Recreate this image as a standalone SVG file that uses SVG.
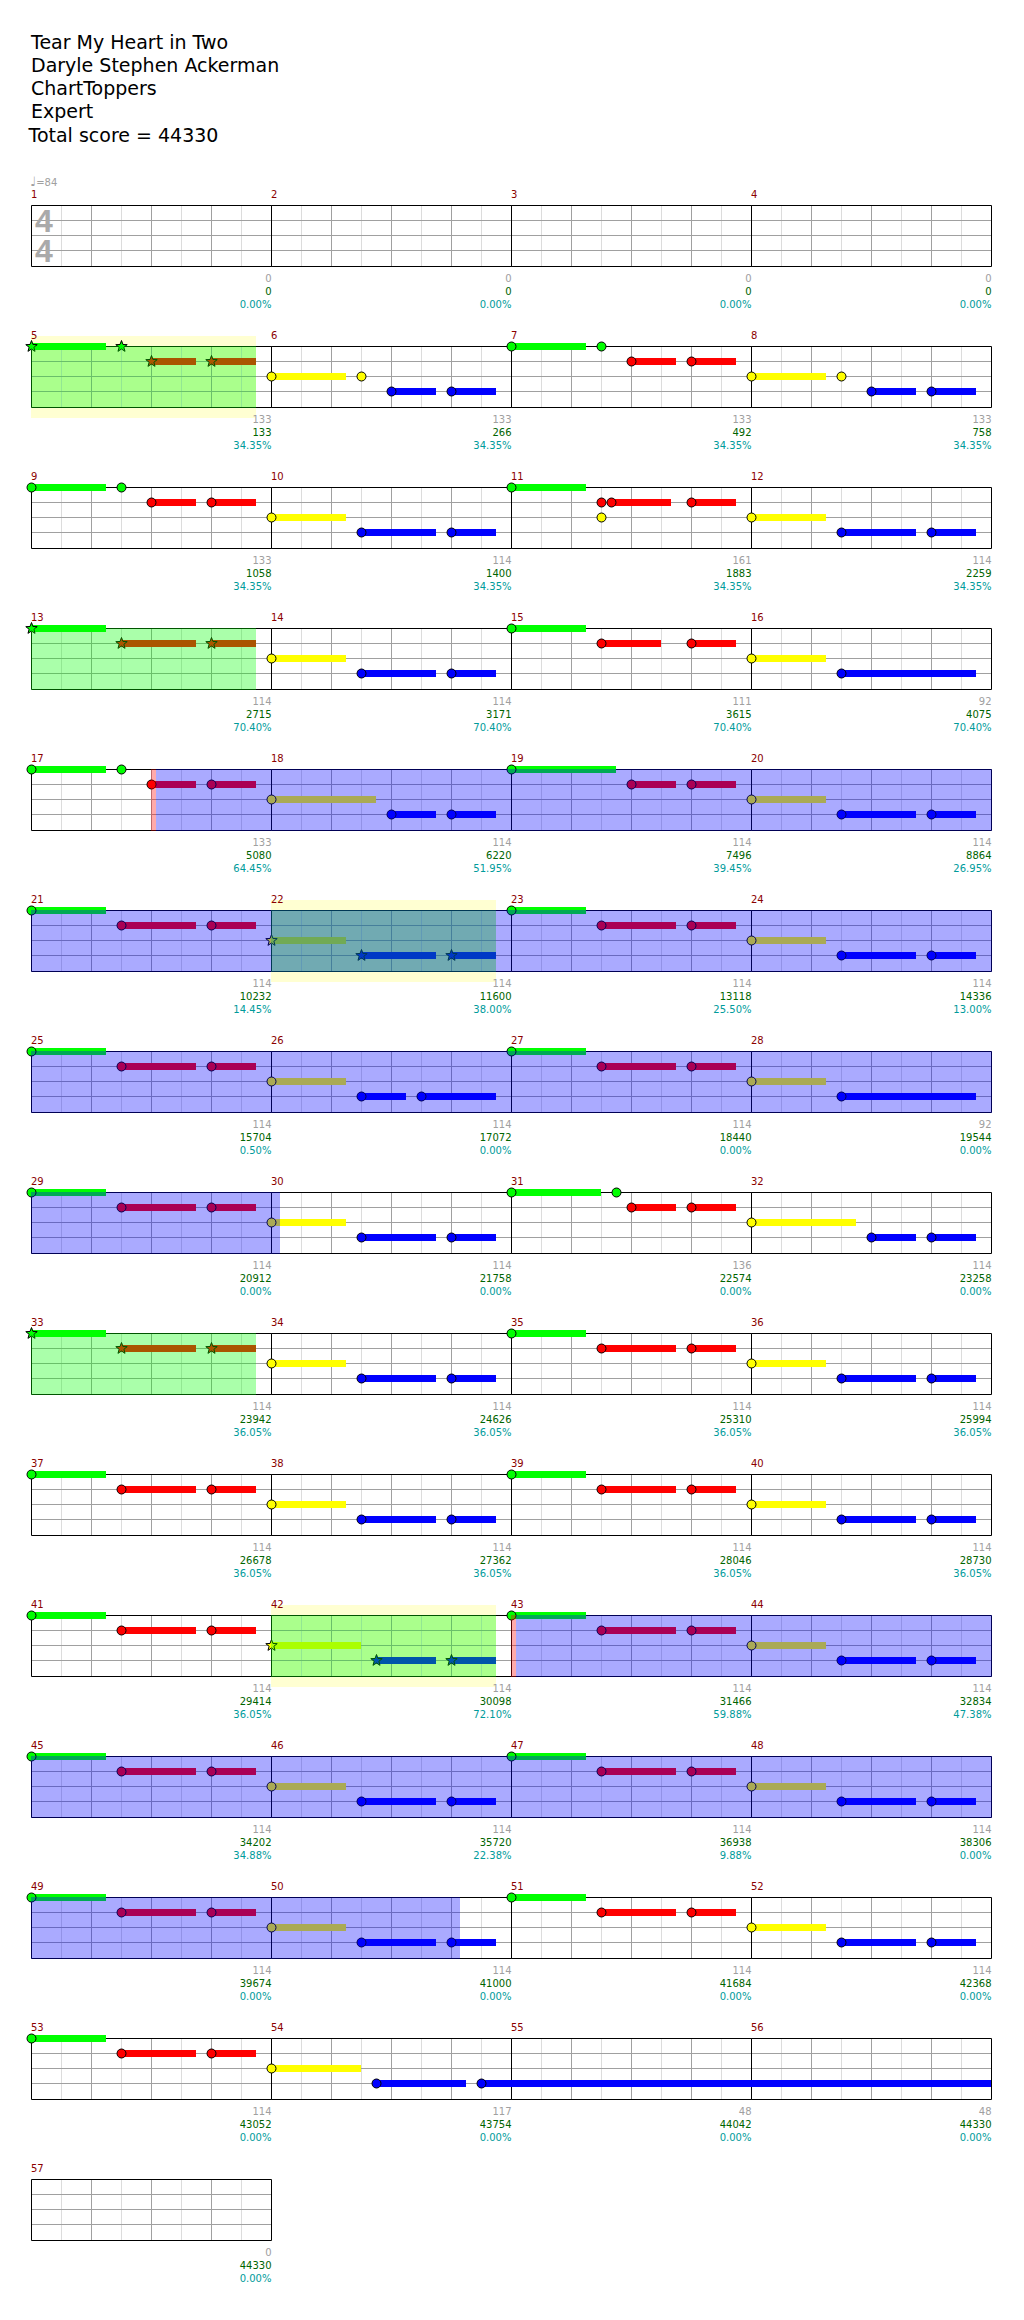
<svg xmlns="http://www.w3.org/2000/svg" width="1024" height="2320" viewBox="0 0 1024 2320">
<style>
text{font-family:"DejaVu Sans",Verdana,sans-serif}
.title{font-size:19px;fill:#000}
.tempo{font-size:10px;fill:#a0a0a0}
.ts{font-family:"Liberation Sans",Arial,sans-serif;font-weight:bold;font-size:32px;fill:#aaaaaa}
.mn{font-size:10px;fill:#8b0000}
.v{font-size:10px;text-anchor:end}
.v1{fill:#a0a0a0}.v2{fill:#006400}.v3{fill:#009b9b}
.g{fill:#00ff00}.r{fill:#ff0000}.y{fill:#ffff00}.b{fill:#0000ff}
.n{stroke:#000;stroke-width:1}
.hl{fill:#ffffd2}
.sp{fill:#00ff00;fill-opacity:.333}
.od{fill:#0000ff;fill-opacity:.333}
.act{fill:#ff0000;fill-opacity:.333}
</style>
<defs>
<g id="grid" fill="none">
<path d="M30 0V61M90 0V61M150 0V61M210 0V61" stroke="#dcdcdc"/>
<path d="M60 0V61M120 0V61M180 0V61M0 15H240M0 30H240M0 45H240" stroke="#a0a0a0"/>
<path d="M0 0H240V61H0Z" stroke="#000"/>
</g>
<polygon id="star" points="0,-6 1.47,-2.02 5.71,-1.85 2.38,0.77 3.53,4.85 0,2.5 -3.53,4.85 -2.38,0.77 -5.71,-1.85 -1.47,-2.02"/>
<g id="pA1">
<rect class="g" x="-0.5" y="-3.5" width="75" height="7"/>
<rect class="r" x="119.5" y="11.5" width="45" height="7"/>
<rect class="r" x="179.5" y="11.5" width="45" height="7"/>
<circle class="g n" r="4.5"/>
<circle class="g n" cx="90" r="4.5"/>
<circle class="r n" cx="120" cy="15" r="4.5"/>
<circle class="r n" cx="180" cy="15" r="4.5"/>
</g>
<g id="pB1">
<rect class="y" x="-0.5" y="26.5" width="75" height="7"/>
<rect class="b" x="119.5" y="41.5" width="45" height="7"/>
<rect class="b" x="179.5" y="41.5" width="45" height="7"/>
<circle class="y n" cy="30" r="4.5"/>
<circle class="y n" cx="90" cy="30" r="4.5"/>
<circle class="b n" cx="120" cy="45" r="4.5"/>
<circle class="b n" cx="180" cy="45" r="4.5"/>
</g>
<g id="pA2">
<rect class="g" x="-0.5" y="-3.5" width="75" height="7"/>
<rect class="r" x="89.5" y="11.5" width="75" height="7"/>
<rect class="r" x="179.5" y="11.5" width="45" height="7"/>
<circle class="g n" r="4.5"/>
<circle class="r n" cx="90" cy="15" r="4.5"/>
<circle class="r n" cx="180" cy="15" r="4.5"/>
</g>
<g id="pB2">
<rect class="y" x="-0.5" y="26.5" width="75" height="7"/>
<rect class="b" x="89.5" y="41.5" width="75" height="7"/>
<rect class="b" x="179.5" y="41.5" width="45" height="7"/>
<circle class="y n" cy="30" r="4.5"/>
<circle class="b n" cx="90" cy="45" r="4.5"/>
<circle class="b n" cx="180" cy="45" r="4.5"/>
</g>
<g id="pA3">
<rect class="g" x="-0.5" y="-3.5" width="105" height="7"/>
<rect class="r" x="119.5" y="11.5" width="45" height="7"/>
<rect class="r" x="179.5" y="11.5" width="45" height="7"/>
<circle class="g n" r="4.5"/>
<circle class="r n" cx="120" cy="15" r="4.5"/>
<circle class="r n" cx="180" cy="15" r="4.5"/>
</g>
<g id="pB3">
<rect class="y" x="-0.5" y="26.5" width="105" height="7"/>
<rect class="b" x="119.5" y="41.5" width="45" height="7"/>
<rect class="b" x="179.5" y="41.5" width="45" height="7"/>
<circle class="y n" cy="30" r="4.5"/>
<circle class="b n" cx="120" cy="45" r="4.5"/>
<circle class="b n" cx="180" cy="45" r="4.5"/>
</g>
</defs>
<rect width="1024" height="2320" fill="#fff"/>
<g id="header">
<text class="title" x="31" y="49">Tear My Heart in Two</text>
<text class="title" x="31" y="72">Daryle Stephen Ackerman</text>
<text class="title" x="31" y="95">ChartToppers</text>
<text class="title" x="31" y="118">Expert</text>
<text class="title" x="28.5" y="141.5">Total score = 44330</text>
<text class="tempo" x="30" y="185.5"><tspan font-size="13">♩</tspan>=84</text>
</g>

<g id="row1">
<g id="m1" transform="translate(31.5,205.5)"><use href="#grid"/><text class="ts" x="3.5" y="26.8">4<tspan x="3.5" y="56.8">4</tspan></text><text class="mn" x="-0.5" y="-8">1</text><text class="v v1" x="240" y="76.5">0</text><text class="v v2" x="240" y="89.5">0</text><text class="v v3" x="240" y="102.5">0.00%</text></g>
<g id="m2" transform="translate(271.5,205.5)"><use href="#grid"/><text class="mn" x="-0.5" y="-8">2</text><text class="v v1" x="240" y="76.5">0</text><text class="v v2" x="240" y="89.5">0</text><text class="v v3" x="240" y="102.5">0.00%</text></g>
<g id="m3" transform="translate(511.5,205.5)"><use href="#grid"/><text class="mn" x="-0.5" y="-8">3</text><text class="v v1" x="240" y="76.5">0</text><text class="v v2" x="240" y="89.5">0</text><text class="v v3" x="240" y="102.5">0.00%</text></g>
<g id="m4" transform="translate(751.5,205.5)"><use href="#grid"/><text class="mn" x="-0.5" y="-8">4</text><text class="v v1" x="240" y="76.5">0</text><text class="v v2" x="240" y="89.5">0</text><text class="v v3" x="240" y="102.5">0.00%</text></g>
</g>

<g id="row2">
<rect class="hl" x="31" y="336" width="225" height="82"/>
<g id="m5" transform="translate(31.5,346.5)"><use href="#grid"/>
<rect class="g" x="-0.5" y="-3.5" width="75" height="7"/><rect class="r" x="119.5" y="11.5" width="45" height="7"/><rect class="r" x="179.5" y="11.5" width="45" height="7"/>
<use href="#star" class="g n"/><use href="#star" class="g n" x="90"/><use href="#star" class="r n" x="120" y="15"/><use href="#star" class="r n" x="180" y="15"/>
<text class="mn" x="-0.5" y="-8">5</text><text class="v v1" x="240" y="76.5">133</text><text class="v v2" x="240" y="89.5">133</text><text class="v v3" x="240" y="102.5">34.35%</text></g>
<g id="m6" transform="translate(271.5,346.5)"><use href="#grid"/><use href="#pB1"/><text class="mn" x="-0.5" y="-8">6</text><text class="v v1" x="240" y="76.5">133</text><text class="v v2" x="240" y="89.5">266</text><text class="v v3" x="240" y="102.5">34.35%</text></g>
<g id="m7" transform="translate(511.5,346.5)"><use href="#grid"/><use href="#pA1"/><text class="mn" x="-0.5" y="-8">7</text><text class="v v1" x="240" y="76.5">133</text><text class="v v2" x="240" y="89.5">492</text><text class="v v3" x="240" y="102.5">34.35%</text></g>
<g id="m8" transform="translate(751.5,346.5)"><use href="#grid"/><use href="#pB1"/><text class="mn" x="-0.5" y="-8">8</text><text class="v v1" x="240" y="76.5">133</text><text class="v v2" x="240" y="89.5">758</text><text class="v v3" x="240" y="102.5">34.35%</text></g>
<rect class="sp" x="31" y="346" width="225" height="62"/>
</g>

<g id="row3">
<g id="m9" transform="translate(31.5,487.5)"><use href="#grid"/><use href="#pA1"/><text class="mn" x="-0.5" y="-8">9</text><text class="v v1" x="240" y="76.5">133</text><text class="v v2" x="240" y="89.5">1058</text><text class="v v3" x="240" y="102.5">34.35%</text></g>
<g id="m10" transform="translate(271.5,487.5)"><use href="#grid"/><use href="#pB2"/><text class="mn" x="-0.5" y="-8">10</text><text class="v v1" x="240" y="76.5">114</text><text class="v v2" x="240" y="89.5">1400</text><text class="v v3" x="240" y="102.5">34.35%</text></g>
<g id="m11" transform="translate(511.5,487.5)"><use href="#grid"/>
<rect class="g" x="-0.5" y="-3.5" width="75" height="7"/><rect class="r" x="99.5" y="11.5" width="60" height="7"/><rect class="r" x="179.5" y="11.5" width="45" height="7"/>
<circle class="g n" r="4.5"/><circle class="r n" cx="90" cy="15" r="4.5"/><circle class="r n" cx="100" cy="15" r="4.5"/><circle class="y n" cx="90" cy="30" r="4.5"/><circle class="r n" cx="180" cy="15" r="4.5"/>
<text class="mn" x="-0.5" y="-8">11</text><text class="v v1" x="240" y="76.5">161</text><text class="v v2" x="240" y="89.5">1883</text><text class="v v3" x="240" y="102.5">34.35%</text></g>
<g id="m12" transform="translate(751.5,487.5)"><use href="#grid"/><use href="#pB2"/><text class="mn" x="-0.5" y="-8">12</text><text class="v v1" x="240" y="76.5">114</text><text class="v v2" x="240" y="89.5">2259</text><text class="v v3" x="240" y="102.5">34.35%</text></g>
</g>

<g id="row4">
<g id="m13" transform="translate(31.5,628.5)"><use href="#grid"/>
<rect class="g" x="-0.5" y="-3.5" width="75" height="7"/><rect class="r" x="89.5" y="11.5" width="75" height="7"/><rect class="r" x="179.5" y="11.5" width="45" height="7"/>
<use href="#star" class="g n"/><use href="#star" class="r n" x="90" y="15"/><use href="#star" class="r n" x="180" y="15"/>
<text class="mn" x="-0.5" y="-8">13</text><text class="v v1" x="240" y="76.5">114</text><text class="v v2" x="240" y="89.5">2715</text><text class="v v3" x="240" y="102.5">70.40%</text></g>
<g id="m14" transform="translate(271.5,628.5)"><use href="#grid"/><use href="#pB2"/><text class="mn" x="-0.5" y="-8">14</text><text class="v v1" x="240" y="76.5">114</text><text class="v v2" x="240" y="89.5">3171</text><text class="v v3" x="240" y="102.5">70.40%</text></g>
<g id="m15" transform="translate(511.5,628.5)"><use href="#grid"/>
<rect class="g" x="-0.5" y="-3.5" width="75" height="7"/><rect class="r" x="89.5" y="11.5" width="60" height="7"/><rect class="r" x="179.5" y="11.5" width="45" height="7"/>
<circle class="g n" r="4.5"/><circle class="r n" cx="90" cy="15" r="4.5"/><circle class="r n" cx="180" cy="15" r="4.5"/>
<text class="mn" x="-0.5" y="-8">15</text><text class="v v1" x="240" y="76.5">111</text><text class="v v2" x="240" y="89.5">3615</text><text class="v v3" x="240" y="102.5">70.40%</text></g>
<g id="m16" transform="translate(751.5,628.5)"><use href="#grid"/>
<rect class="y" x="-0.5" y="26.5" width="75" height="7"/><rect class="b" x="89.5" y="41.5" width="135" height="7"/>
<circle class="y n" cy="30" r="4.5"/><circle class="b n" cx="90" cy="45" r="4.5"/>
<text class="mn" x="-0.5" y="-8">16</text><text class="v v1" x="240" y="76.5">92</text><text class="v v2" x="240" y="89.5">4075</text><text class="v v3" x="240" y="102.5">70.40%</text></g>
<rect class="sp" x="31" y="628" width="225" height="62"/>
</g>

<g id="row5">
<g id="m17" transform="translate(31.5,769.5)"><use href="#grid"/><use href="#pA1"/><text class="mn" x="-0.5" y="-8">17</text><text class="v v1" x="240" y="76.5">133</text><text class="v v2" x="240" y="89.5">5080</text><text class="v v3" x="240" y="102.5">64.45%</text></g>
<g id="m18" transform="translate(271.5,769.5)"><use href="#grid"/><use href="#pB3"/><text class="mn" x="-0.5" y="-8">18</text><text class="v v1" x="240" y="76.5">114</text><text class="v v2" x="240" y="89.5">6220</text><text class="v v3" x="240" y="102.5">51.95%</text></g>
<g id="m19" transform="translate(511.5,769.5)"><use href="#grid"/><use href="#pA3"/><text class="mn" x="-0.5" y="-8">19</text><text class="v v1" x="240" y="76.5">114</text><text class="v v2" x="240" y="89.5">7496</text><text class="v v3" x="240" y="102.5">39.45%</text></g>
<g id="m20" transform="translate(751.5,769.5)"><use href="#grid"/><use href="#pB2"/><text class="mn" x="-0.5" y="-8">20</text><text class="v v1" x="240" y="76.5">114</text><text class="v v2" x="240" y="89.5">8864</text><text class="v v3" x="240" y="102.5">26.95%</text></g>
<rect class="act" x="151" y="769" width="5" height="62"/>
<rect class="od" x="156" y="769" width="836" height="62"/>
</g>

<g id="row6">
<rect class="hl" x="271" y="900" width="225" height="82"/>
<g id="m21" transform="translate(31.5,910.5)"><use href="#grid"/><use href="#pA2"/><text class="mn" x="-0.5" y="-8">21</text><text class="v v1" x="240" y="76.5">114</text><text class="v v2" x="240" y="89.5">10232</text><text class="v v3" x="240" y="102.5">14.45%</text></g>
<g id="m22" transform="translate(271.5,910.5)"><use href="#grid"/>
<rect class="y" x="-0.5" y="26.5" width="75" height="7"/><rect class="b" x="89.5" y="41.5" width="75" height="7"/><rect class="b" x="179.5" y="41.5" width="45" height="7"/>
<use href="#star" class="y n" y="30"/><use href="#star" class="b n" x="90" y="45"/><use href="#star" class="b n" x="180" y="45"/>
<text class="mn" x="-0.5" y="-8">22</text><text class="v v1" x="240" y="76.5">114</text><text class="v v2" x="240" y="89.5">11600</text><text class="v v3" x="240" y="102.5">38.00%</text></g>
<g id="m23" transform="translate(511.5,910.5)"><use href="#grid"/><use href="#pA2"/><text class="mn" x="-0.5" y="-8">23</text><text class="v v1" x="240" y="76.5">114</text><text class="v v2" x="240" y="89.5">13118</text><text class="v v3" x="240" y="102.5">25.50%</text></g>
<g id="m24" transform="translate(751.5,910.5)"><use href="#grid"/><use href="#pB2"/><text class="mn" x="-0.5" y="-8">24</text><text class="v v1" x="240" y="76.5">114</text><text class="v v2" x="240" y="89.5">14336</text><text class="v v3" x="240" y="102.5">13.00%</text></g>
<rect class="sp" x="271" y="910" width="225" height="62"/>
<rect class="od" x="31" y="910" width="961" height="62"/>
</g>

<g id="row7">
<g id="m25" transform="translate(31.5,1051.5)"><use href="#grid"/><use href="#pA2"/><text class="mn" x="-0.5" y="-8">25</text><text class="v v1" x="240" y="76.5">114</text><text class="v v2" x="240" y="89.5">15704</text><text class="v v3" x="240" y="102.5">0.50%</text></g>
<g id="m26" transform="translate(271.5,1051.5)"><use href="#grid"/>
<rect class="y" x="-0.5" y="26.5" width="75" height="7"/><rect class="b" x="89.5" y="41.5" width="45" height="7"/><rect class="b" x="149.5" y="41.5" width="75" height="7"/>
<circle class="y n" cy="30" r="4.5"/><circle class="b n" cx="90" cy="45" r="4.5"/><circle class="b n" cx="150" cy="45" r="4.5"/>
<text class="mn" x="-0.5" y="-8">26</text><text class="v v1" x="240" y="76.5">114</text><text class="v v2" x="240" y="89.5">17072</text><text class="v v3" x="240" y="102.5">0.00%</text></g>
<g id="m27" transform="translate(511.5,1051.5)"><use href="#grid"/><use href="#pA2"/><text class="mn" x="-0.5" y="-8">27</text><text class="v v1" x="240" y="76.5">114</text><text class="v v2" x="240" y="89.5">18440</text><text class="v v3" x="240" y="102.5">0.00%</text></g>
<g id="m28" transform="translate(751.5,1051.5)"><use href="#grid"/>
<rect class="y" x="-0.5" y="26.5" width="75" height="7"/><rect class="b" x="89.5" y="41.5" width="135" height="7"/>
<circle class="y n" cy="30" r="4.5"/><circle class="b n" cx="90" cy="45" r="4.5"/>
<text class="mn" x="-0.5" y="-8">28</text><text class="v v1" x="240" y="76.5">92</text><text class="v v2" x="240" y="89.5">19544</text><text class="v v3" x="240" y="102.5">0.00%</text></g>
<rect class="od" x="31" y="1051" width="961" height="62"/>
</g>

<g id="row8">
<g id="m29" transform="translate(31.5,1192.5)"><use href="#grid"/><use href="#pA2"/><text class="mn" x="-0.5" y="-8">29</text><text class="v v1" x="240" y="76.5">114</text><text class="v v2" x="240" y="89.5">20912</text><text class="v v3" x="240" y="102.5">0.00%</text></g>
<g id="m30" transform="translate(271.5,1192.5)"><use href="#grid"/><use href="#pB2"/><text class="mn" x="-0.5" y="-8">30</text><text class="v v1" x="240" y="76.5">114</text><text class="v v2" x="240" y="89.5">21758</text><text class="v v3" x="240" y="102.5">0.00%</text></g>
<g id="m31" transform="translate(511.5,1192.5)"><use href="#grid"/>
<rect class="g" x="-0.5" y="-3.5" width="90" height="7"/><rect class="r" x="119.5" y="11.5" width="45" height="7"/><rect class="r" x="179.5" y="11.5" width="45" height="7"/>
<circle class="g n" r="4.5"/><circle class="g n" cx="105" r="4.5"/><circle class="r n" cx="120" cy="15" r="4.5"/><circle class="r n" cx="180" cy="15" r="4.5"/>
<text class="mn" x="-0.5" y="-8">31</text><text class="v v1" x="240" y="76.5">136</text><text class="v v2" x="240" y="89.5">22574</text><text class="v v3" x="240" y="102.5">0.00%</text></g>
<g id="m32" transform="translate(751.5,1192.5)"><use href="#grid"/><use href="#pB3"/><text class="mn" x="-0.5" y="-8">32</text><text class="v v1" x="240" y="76.5">114</text><text class="v v2" x="240" y="89.5">23258</text><text class="v v3" x="240" y="102.5">0.00%</text></g>
<rect class="od" x="31" y="1192" width="249" height="62"/>
</g>

<g id="row9">
<g id="m33" transform="translate(31.5,1333.5)"><use href="#grid"/>
<rect class="g" x="-0.5" y="-3.5" width="75" height="7"/><rect class="r" x="89.5" y="11.5" width="75" height="7"/><rect class="r" x="179.5" y="11.5" width="45" height="7"/>
<use href="#star" class="g n"/><use href="#star" class="r n" x="90" y="15"/><use href="#star" class="r n" x="180" y="15"/>
<text class="mn" x="-0.5" y="-8">33</text><text class="v v1" x="240" y="76.5">114</text><text class="v v2" x="240" y="89.5">23942</text><text class="v v3" x="240" y="102.5">36.05%</text></g>
<g id="m34" transform="translate(271.5,1333.5)"><use href="#grid"/><use href="#pB2"/><text class="mn" x="-0.5" y="-8">34</text><text class="v v1" x="240" y="76.5">114</text><text class="v v2" x="240" y="89.5">24626</text><text class="v v3" x="240" y="102.5">36.05%</text></g>
<g id="m35" transform="translate(511.5,1333.5)"><use href="#grid"/><use href="#pA2"/><text class="mn" x="-0.5" y="-8">35</text><text class="v v1" x="240" y="76.5">114</text><text class="v v2" x="240" y="89.5">25310</text><text class="v v3" x="240" y="102.5">36.05%</text></g>
<g id="m36" transform="translate(751.5,1333.5)"><use href="#grid"/><use href="#pB2"/><text class="mn" x="-0.5" y="-8">36</text><text class="v v1" x="240" y="76.5">114</text><text class="v v2" x="240" y="89.5">25994</text><text class="v v3" x="240" y="102.5">36.05%</text></g>
<rect class="sp" x="31" y="1333" width="225" height="62"/>
</g>

<g id="row10">
<g id="m37" transform="translate(31.5,1474.5)"><use href="#grid"/><use href="#pA2"/><text class="mn" x="-0.5" y="-8">37</text><text class="v v1" x="240" y="76.5">114</text><text class="v v2" x="240" y="89.5">26678</text><text class="v v3" x="240" y="102.5">36.05%</text></g>
<g id="m38" transform="translate(271.5,1474.5)"><use href="#grid"/><use href="#pB2"/><text class="mn" x="-0.5" y="-8">38</text><text class="v v1" x="240" y="76.5">114</text><text class="v v2" x="240" y="89.5">27362</text><text class="v v3" x="240" y="102.5">36.05%</text></g>
<g id="m39" transform="translate(511.5,1474.5)"><use href="#grid"/><use href="#pA2"/><text class="mn" x="-0.5" y="-8">39</text><text class="v v1" x="240" y="76.5">114</text><text class="v v2" x="240" y="89.5">28046</text><text class="v v3" x="240" y="102.5">36.05%</text></g>
<g id="m40" transform="translate(751.5,1474.5)"><use href="#grid"/><use href="#pB2"/><text class="mn" x="-0.5" y="-8">40</text><text class="v v1" x="240" y="76.5">114</text><text class="v v2" x="240" y="89.5">28730</text><text class="v v3" x="240" y="102.5">36.05%</text></g>
</g>

<g id="row11">
<rect class="hl" x="271" y="1605" width="225" height="82"/>
<g id="m41" transform="translate(31.5,1615.5)"><use href="#grid"/><use href="#pA2"/><text class="mn" x="-0.5" y="-8">41</text><text class="v v1" x="240" y="76.5">114</text><text class="v v2" x="240" y="89.5">29414</text><text class="v v3" x="240" y="102.5">36.05%</text></g>
<g id="m42" transform="translate(271.5,1615.5)"><use href="#grid"/>
<rect class="y" x="-0.5" y="26.5" width="90" height="7"/><rect class="b" x="104.5" y="41.5" width="60" height="7"/><rect class="b" x="179.5" y="41.5" width="45" height="7"/>
<use href="#star" class="y n" y="30"/><use href="#star" class="b n" x="105" y="45"/><use href="#star" class="b n" x="180" y="45"/>
<text class="mn" x="-0.5" y="-8">42</text><text class="v v1" x="240" y="76.5">114</text><text class="v v2" x="240" y="89.5">30098</text><text class="v v3" x="240" y="102.5">72.10%</text></g>
<g id="m43" transform="translate(511.5,1615.5)"><use href="#grid"/><use href="#pA2"/><text class="mn" x="-0.5" y="-8">43</text><text class="v v1" x="240" y="76.5">114</text><text class="v v2" x="240" y="89.5">31466</text><text class="v v3" x="240" y="102.5">59.88%</text></g>
<g id="m44" transform="translate(751.5,1615.5)"><use href="#grid"/><use href="#pB2"/><text class="mn" x="-0.5" y="-8">44</text><text class="v v1" x="240" y="76.5">114</text><text class="v v2" x="240" y="89.5">32834</text><text class="v v3" x="240" y="102.5">47.38%</text></g>
<rect class="sp" x="271" y="1615" width="225" height="62"/>
<rect class="act" x="511" y="1615" width="5" height="62"/>
<rect class="od" x="516" y="1615" width="476" height="62"/>
</g>

<g id="row12">
<g id="m45" transform="translate(31.5,1756.5)"><use href="#grid"/><use href="#pA2"/><text class="mn" x="-0.5" y="-8">45</text><text class="v v1" x="240" y="76.5">114</text><text class="v v2" x="240" y="89.5">34202</text><text class="v v3" x="240" y="102.5">34.88%</text></g>
<g id="m46" transform="translate(271.5,1756.5)"><use href="#grid"/><use href="#pB2"/><text class="mn" x="-0.5" y="-8">46</text><text class="v v1" x="240" y="76.5">114</text><text class="v v2" x="240" y="89.5">35720</text><text class="v v3" x="240" y="102.5">22.38%</text></g>
<g id="m47" transform="translate(511.5,1756.5)"><use href="#grid"/><use href="#pA2"/><text class="mn" x="-0.5" y="-8">47</text><text class="v v1" x="240" y="76.5">114</text><text class="v v2" x="240" y="89.5">36938</text><text class="v v3" x="240" y="102.5">9.88%</text></g>
<g id="m48" transform="translate(751.5,1756.5)"><use href="#grid"/><use href="#pB2"/><text class="mn" x="-0.5" y="-8">48</text><text class="v v1" x="240" y="76.5">114</text><text class="v v2" x="240" y="89.5">38306</text><text class="v v3" x="240" y="102.5">0.00%</text></g>
<rect class="od" x="31" y="1756" width="961" height="62"/>
</g>

<g id="row13">
<g id="m49" transform="translate(31.5,1897.5)"><use href="#grid"/><use href="#pA2"/><text class="mn" x="-0.5" y="-8">49</text><text class="v v1" x="240" y="76.5">114</text><text class="v v2" x="240" y="89.5">39674</text><text class="v v3" x="240" y="102.5">0.00%</text></g>
<g id="m50" transform="translate(271.5,1897.5)"><use href="#grid"/><use href="#pB2"/><text class="mn" x="-0.5" y="-8">50</text><text class="v v1" x="240" y="76.5">114</text><text class="v v2" x="240" y="89.5">41000</text><text class="v v3" x="240" y="102.5">0.00%</text></g>
<g id="m51" transform="translate(511.5,1897.5)"><use href="#grid"/><use href="#pA2"/><text class="mn" x="-0.5" y="-8">51</text><text class="v v1" x="240" y="76.5">114</text><text class="v v2" x="240" y="89.5">41684</text><text class="v v3" x="240" y="102.5">0.00%</text></g>
<g id="m52" transform="translate(751.5,1897.5)"><use href="#grid"/><use href="#pB2"/><text class="mn" x="-0.5" y="-8">52</text><text class="v v1" x="240" y="76.5">114</text><text class="v v2" x="240" y="89.5">42368</text><text class="v v3" x="240" y="102.5">0.00%</text></g>
<rect class="od" x="31" y="1897" width="429" height="62"/>
</g>

<g id="row14">
<g id="m53" transform="translate(31.5,2038.5)"><use href="#grid"/><use href="#pA2"/><text class="mn" x="-0.5" y="-8">53</text><text class="v v1" x="240" y="76.5">114</text><text class="v v2" x="240" y="89.5">43052</text><text class="v v3" x="240" y="102.5">0.00%</text></g>
<g id="m54" transform="translate(271.5,2038.5)"><use href="#grid"/><text class="mn" x="-0.5" y="-8">54</text><text class="v v1" x="240" y="76.5">117</text><text class="v v2" x="240" y="89.5">43754</text><text class="v v3" x="240" y="102.5">0.00%</text></g>
<g id="m55" transform="translate(511.5,2038.5)"><use href="#grid"/><text class="mn" x="-0.5" y="-8">55</text><text class="v v1" x="240" y="76.5">48</text><text class="v v2" x="240" y="89.5">44042</text><text class="v v3" x="240" y="102.5">0.00%</text></g>
<g id="m56" transform="translate(751.5,2038.5)"><use href="#grid"/><text class="mn" x="-0.5" y="-8">56</text><text class="v v1" x="240" y="76.5">48</text><text class="v v2" x="240" y="89.5">44330</text><text class="v v3" x="240" y="102.5">0.00%</text></g>
<g id="m54-notes" transform="translate(271.5,2038.5)">
<rect class="y" x="-0.5" y="26.5" width="90" height="7"/><rect class="b" x="104.5" y="41.5" width="90" height="7"/><rect class="b" x="209.5" y="41.5" width="510" height="7"/>
<circle class="y n" cy="30" r="4.5"/><circle class="b n" cx="105" cy="45" r="4.5"/><circle class="b n" cx="210" cy="45" r="4.5"/>
</g>
</g>

<g id="row15">
<g id="m57" transform="translate(31.5,2179.5)"><use href="#grid"/><text class="mn" x="-0.5" y="-8">57</text><text class="v v1" x="240" y="76.5">0</text><text class="v v2" x="240" y="89.5">44330</text><text class="v v3" x="240" y="102.5">0.00%</text></g>
</g>
</svg>
